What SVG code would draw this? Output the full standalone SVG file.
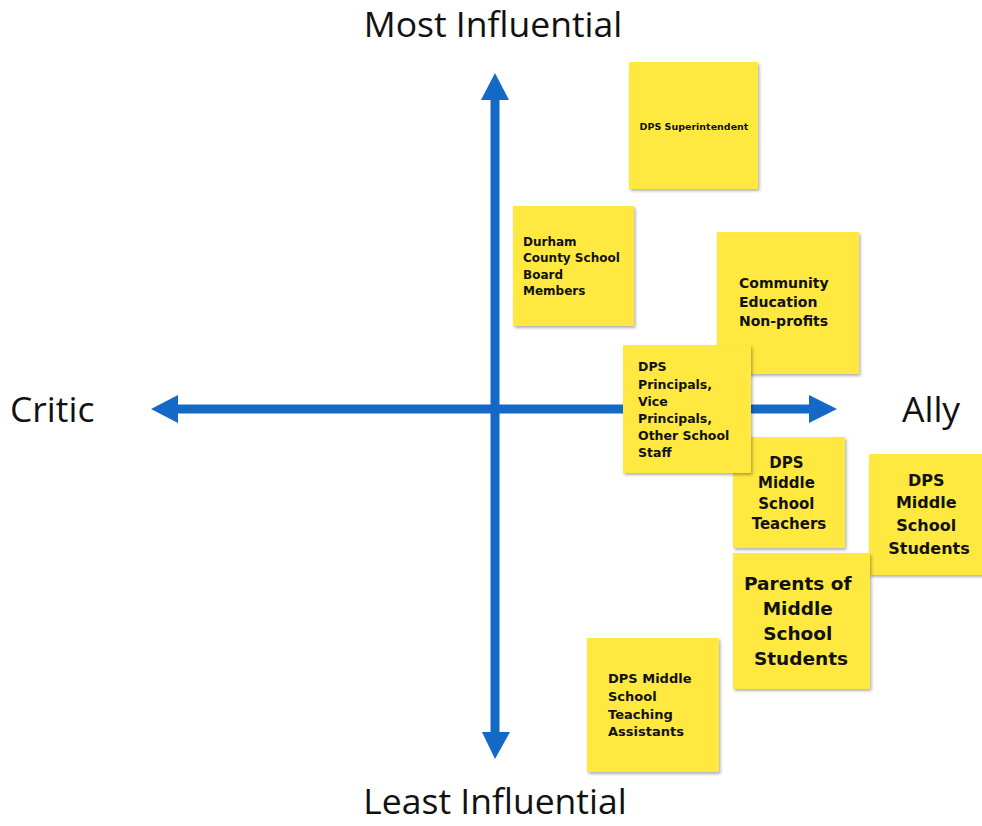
<svg xmlns="http://www.w3.org/2000/svg" width="982" height="826" viewBox="0 0 982 826">
  <style>
    .axis-label { font-family: "Open Sans", "Liberation Sans", sans-serif; font-size: 35.5px; fill: #111; }
    .note { fill: #FFE93F; filter: url(#shadow); }
    .nt { font-family: "DejaVu Sans", "Open Sans", sans-serif; font-weight: 700; fill: #111; }
    .axis { stroke: #1468C6; stroke-width: 9; fill: none; }
    .head { fill: #1468C6; }
  </style>
  <defs>
    <filter id="shadow" x="-10%" y="-10%" width="125%" height="125%">
      <feDropShadow dx="1.5" dy="2" stdDeviation="1.5" flood-color="#000" flood-opacity="0.3"/>
    </filter>
  </defs>

  <rect width="982" height="826" fill="#fff"/>

  <!-- axis labels -->
  <text class="axis-label" x="493" y="37" text-anchor="middle">Most Influential</text>
  <text class="axis-label" x="495" y="814" text-anchor="middle">Least Influential</text>
  <text class="axis-label" x="10" y="422">Critic</text>
  <text class="axis-label" x="902" y="422">Ally</text>

  <!-- axes -->
  <g id="connectors">
    <line class="axis" x1="495" y1="98" x2="495" y2="734"/>
    <polygon class="head" points="495,73 481,100 509,100"/>
    <polygon class="head" points="495,759 482,732 510,732"/>
    <line class="axis" x1="176" y1="409" x2="811" y2="409"/>
    <polygon class="head" points="151,409 178,395 178,423"/>
    <polygon class="head" points="837,409 809,395 809,423"/>
  </g>

  <g id="superintendent">
    <rect class="note" x="629" y="62" width="129" height="127"/>
    <text class="nt" x="694" y="130" font-size="9.5" text-anchor="middle">DPS Superintendent</text>
  </g>

  <g id="school-board">
    <rect class="note" x="513" y="206" width="121" height="120"/>
    <text class="nt" font-size="12">
      <tspan x="523" y="246">Durham</tspan>
      <tspan x="523" y="262">County School</tspan>
      <tspan x="523" y="279">Board</tspan>
      <tspan x="523" y="295">Members</tspan>
    </text>
  </g>

  <g id="nonprofits">
    <rect class="note" x="717" y="232" width="142" height="142"/>
    <text class="nt" font-size="14">
      <tspan x="739" y="288">Community</tspan>
      <tspan x="739" y="307">Education</tspan>
      <tspan x="739" y="326">Non-profits</tspan>
    </text>
  </g>

  <g id="teachers">
    <rect class="note" x="733" y="437" width="112" height="111"/>
    <text class="nt" font-size="15" text-anchor="middle">
      <tspan x="789" y="468">DPS</tspan>
      <tspan x="789" y="488">Middle</tspan>
      <tspan x="789" y="509">School</tspan>
      <tspan x="789" y="529">Teachers</tspan>
    </text>
  </g>

  <g id="principals">
    <rect class="note" x="623" y="345" width="128" height="128"/>
    <text class="nt" font-size="12.5">
      <tspan x="638" y="371">DPS</tspan>
      <tspan x="638" y="389">Principals,</tspan>
      <tspan x="638" y="406">Vice</tspan>
      <tspan x="638" y="423">Principals,</tspan>
      <tspan x="638" y="440">Other School</tspan>
      <tspan x="638" y="457">Staff</tspan>
    </text>
  </g>

  <g id="students">
    <rect class="note" x="869" y="454" width="115" height="121"/>
    <text class="nt" font-size="16" text-anchor="middle">
      <tspan x="929" y="486">DPS</tspan>
      <tspan x="929" y="508">Middle</tspan>
      <tspan x="929" y="531">School</tspan>
      <tspan x="929" y="554">Students</tspan>
    </text>
  </g>

  <g id="parents">
    <rect class="note" x="733" y="553" width="137" height="136"/>
    <text class="nt" font-size="18.5" text-anchor="middle">
      <tspan x="801" y="590">Parents of</tspan>
      <tspan x="801" y="615">Middle</tspan>
      <tspan x="801" y="640">School</tspan>
      <tspan x="801" y="665">Students</tspan>
    </text>
  </g>

  <g id="teaching-assistants">
    <rect class="note" x="587" y="638" width="132" height="134"/>
    <text class="nt" font-size="13">
      <tspan x="608" y="683">DPS Middle</tspan>
      <tspan x="608" y="701">School</tspan>
      <tspan x="608" y="719">Teaching</tspan>
      <tspan x="608" y="736">Assistants</tspan>
    </text>
  </g>
</svg>
